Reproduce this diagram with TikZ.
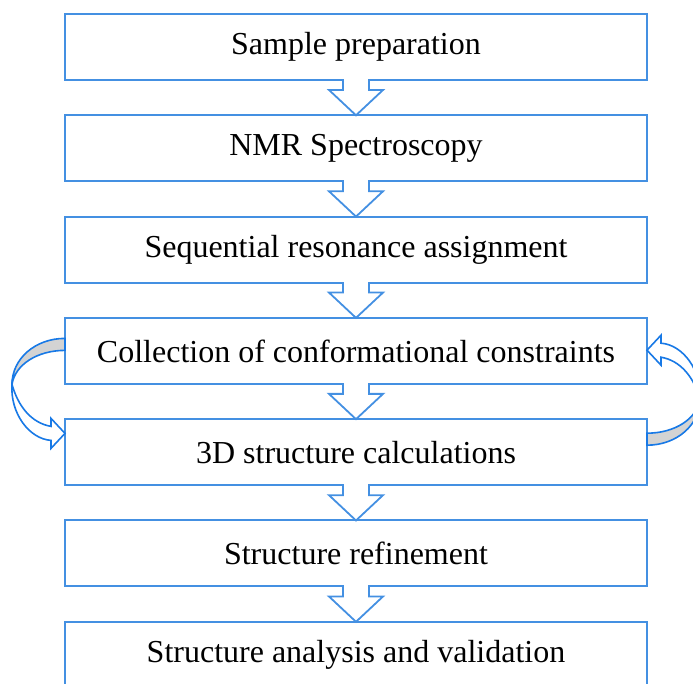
\documentclass[tikz,border=0pt]{standalone}
\usepackage{fontspec}
\setmainfont{Liberation Serif}
\usepackage{tikz}
\usetikzlibrary{positioning, calc}
\definecolor{boxblue}{RGB}{68,144,226}
\definecolor{loopblue}{RGB}{24,121,230}
\definecolor{loopgray}{RGB}{211,211,211}

\tikzset{
  stage/.style={draw=boxblue, line width=2pt, fill=white, minimum width=582pt,
    minimum height=66pt, outer sep=0pt, inner sep=0pt, font=\fontsize{32}{38}\selectfont},
  flowline/.style={draw=boxblue, line width=1.8pt, line join=miter},
  loopline/.style={draw=loopblue, line width=1.6pt, line join=miter}
}

% hollow block arrow from one stage to the next
\newcommand{\flowarrow}[2]{%
  \fill[white] ($(#1.south)+(-12,1.5)$) rectangle ($(#1.south)+(12,-9)$);
  \draw[flowline] ($(#1.south)+(-13,0)$) -- ++(0,-10) -- ++(-14,0) -- (#2.north)
    -- ($(#1.south)+(27,-10)$) -- ++(-14,0) -- ++(0,10);
}
% curved ribbon arrow, drawn from its start point
\newcommand{\loopshape}{%
  \filldraw[loopline, fill=loopgray] (0,12.5) .. controls (-30,12.5) and (-53,-8) .. (-53,-33.5)
    .. controls (-50,-14) and (-28,0.5) .. (0,0.5) -- cycle;
  \filldraw[loopline, fill=white] (-53,-33.5) .. controls (-55,-62) and (-36,-88) .. (-14,-89.5)
    -- (-14,-97.5) -- (0,-82.5) -- (-14,-67.5) -- (-14,-75.5)
    .. controls (-34,-72) and (-47,-55) .. (-53,-33.5) -- cycle;
}

\begin{document}
\begin{tikzpicture}[x=1pt, y=1pt]
  \useasboundingbox (0,0) rectangle (693,684);
  \clip (0,0) rectangle (693,684);
  % Stages
  \node[stage] (prep) at (356,637) {Sample preparation};
  \node[stage, below=35.3pt of prep] (nmr) {NMR Spectroscopy};
  \node[stage, below=35.3pt of nmr] (assign) {Sequential resonance assignment};
  \node[stage, below=35.3pt of assign] (constr) {Collection of conformational constraints};
  \node[stage, below=35.3pt of constr] (calc) {3D structure calculations};
  \node[stage, below=35.3pt of calc] (refine) {Structure refinement};
  \node[stage, below=35.3pt of refine] (valid) {Structure analysis and validation};
  % Block arrows
  \foreach \a/\b in {prep/nmr, nmr/assign, assign/constr, constr/calc, calc/refine, refine/valid}
    \flowarrow{\a}{\b};
  % Iteration loop
  \begin{scope}[shift={(constr.west)}]
    \loopshape
  \end{scope}
  \begin{scope}[shift={($(calc.east)+(0,19.5)$)}, rotate=180]
    \loopshape
  \end{scope}
\end{tikzpicture}
\end{document}
